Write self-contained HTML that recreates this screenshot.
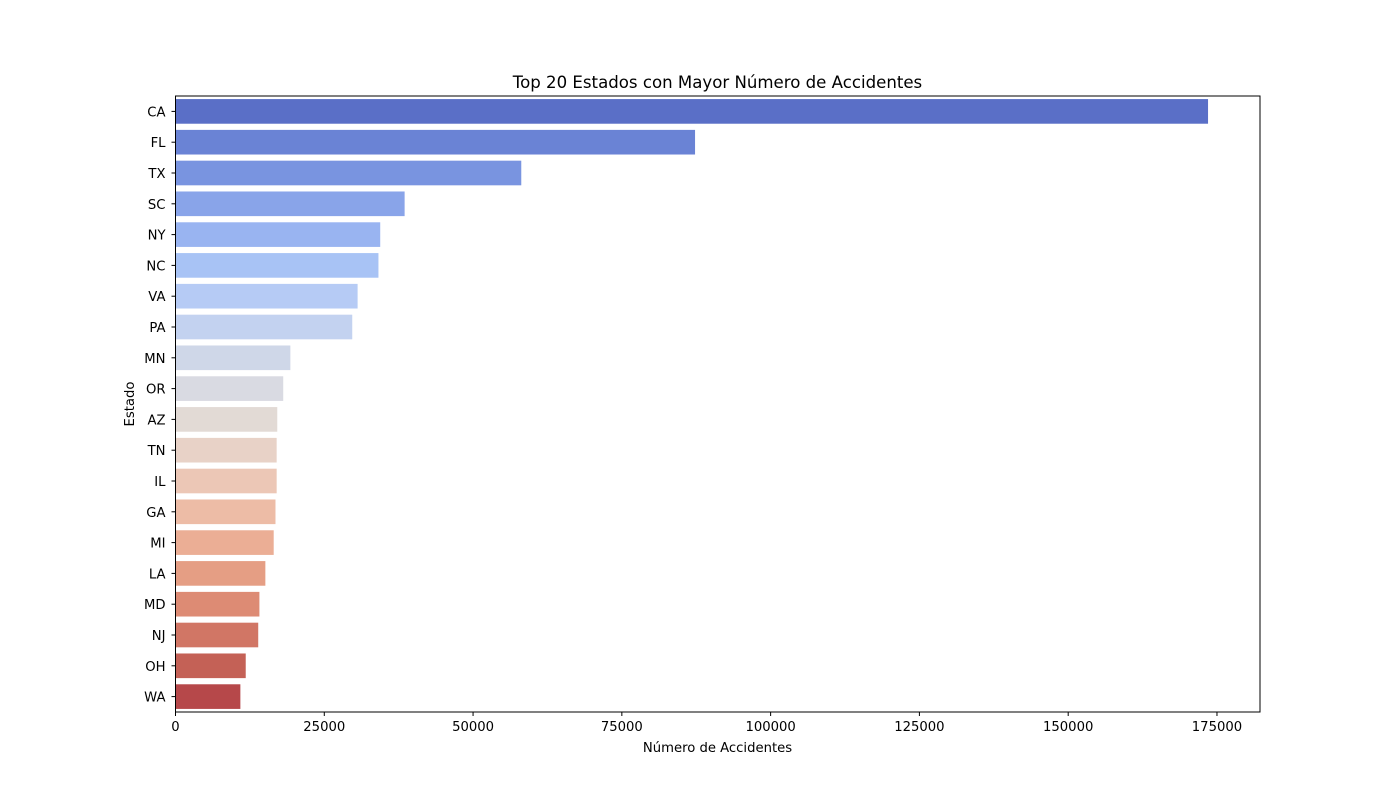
<!DOCTYPE html>
<html><head><meta charset="utf-8"><style>
body{margin:0;background:#fff;}
svg text{font-family:"DejaVu Sans","Liberation Sans",sans-serif;fill:#000;}
</style></head><body>
<svg id="chart" width="1400" height="800" xmlns="http://www.w3.org/2000/svg">
<rect width="1400" height="800" fill="#fff"/>
<text x="717.5" y="88" font-size="16.6" text-anchor="middle">Top 20 Estados con Mayor Número de Accidentes</text>
<g id="bars"></g><g id="axes"></g>
<text x="717.5" y="752" font-size="13.2" text-anchor="middle">Número de Accidentes</text>
<text x="0" y="0" font-size="13.2" text-anchor="middle" transform="translate(134,404) rotate(-90)">Estado</text>
</svg>
<script>
const states=["CA","FL","TX","SC","NY","NC","VA","PA","MN","OR","AZ","TN","IL","GA","MI","LA","MD","NJ","OH","WA"];
const accidents=[173500,87300,58100,38500,34400,34100,30600,29700,19300,18100,17100,17000,17000,16800,16500,15100,14100,13900,11800,10900];
const xTicks=[0,25000,50000,75000,100000,125000,150000,175000];
const colors=["#5a6fc7","#6a83d5","#7994e0","#89a4e9","#99b4f1","#a8c3f5","#b6cbf5","#c3d2f0","#cfd7e8","#d9dae2","#e2dad5","#e8d2c7","#ecc7b6","#edbca6","#ebae95","#e59e84","#dd8b74","#d17665","#c46156","#b6484a"];
const L=175.5,R=1260,T=96,B=712,XMAX=182230;
const ns="http://www.w3.org/2000/svg";
const x=v=>L+v/XMAX*(R-L);
const band=(B-T)/states.length;
const y=i=>T+band*i;
const bars=document.getElementById('bars'),axes=document.getElementById('axes');
function mk(t,a,p){const e=document.createElementNS(ns,t);for(const k in a)e.setAttribute(k,a[k]);p.appendChild(e);return e;}
states.forEach((s,i)=>{
 const r=mk('rect',{x:L,y:y(i)+band*0.1,width:x(accidents[i])-L,height:band*0.8,fill:colors[i]},bars);
 
 
 const cy=y(i)+band/2;
 const tk=mk('line',{x1:L-4,x2:L,y1:cy,y2:cy,stroke:'#000','stroke-width':1},axes);
 
 
 const tx=mk('text',{x:L-10,y:cy+5,'font-size':13.2,'text-anchor':'end'},axes);
 tx.textContent=s;
 
 
});
xTicks.forEach(v=>{
 const px=x(v);
 const tk=mk('line',{x1:px,x2:px,y1:B,y2:B+4,stroke:'#000','stroke-width':1},axes);
 
 
 const tx=mk('text',{x:px,y:B+19,'font-size':13.2,'text-anchor':'middle'},axes);
 tx.textContent=v;
 
 
});
const fr=mk('rect',{x:L,y:T,width:R-L,height:B-T,fill:'none',stroke:'#000','stroke-width':1},axes);


</script>
</body></html>
